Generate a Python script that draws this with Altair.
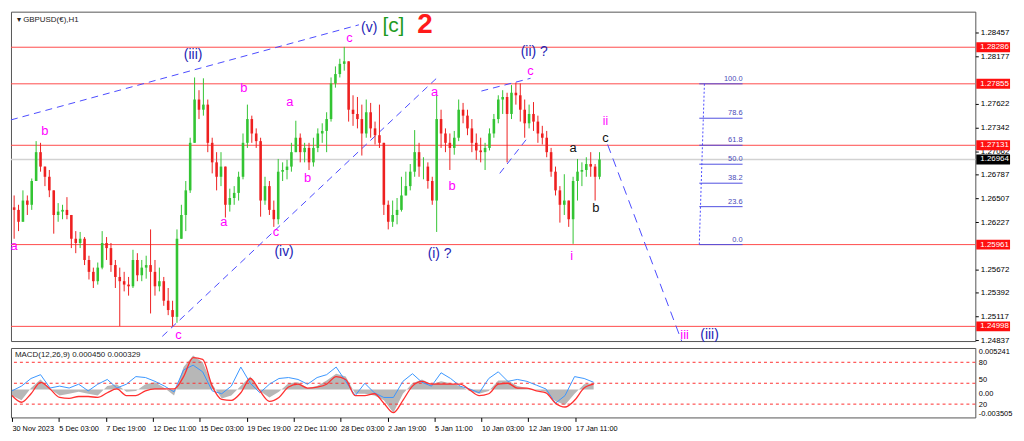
import altair as alt
import pandas as pd

W, H_MAIN, H_MACD = 972, 332, 70

# ---------------- price data (H1 chart, one candle per 6 hours) ----------------
candle_step_hours = 6
first_open = 1.2640
candle_high = [1.2654,1.2643,1.2660,1.2654,1.2674,1.2718,1.2716,1.2688,1.2684,1.2648,
1.2645,1.2643,1.2652,1.2631,1.2612,1.2611,1.2605,1.2583,1.2569,1.2575,
1.2612,1.2605,1.2598,1.2578,1.2569,1.2564,1.2558,1.2590,1.2586,1.2578,
1.2583,1.2614,1.2578,1.2569,1.2558,1.2545,1.2530,1.2614,1.2643,1.2671,
1.2722,1.2793,1.2778,1.2792,1.2767,1.2722,1.2705,1.2705,1.2688,1.2662,
1.2665,1.2682,1.2727,1.2761,1.2748,1.2733,1.2722,1.2676,1.2671,1.2648,
1.2697,1.2693,1.2696,1.2716,1.2742,1.2727,1.2716,1.2716,1.2722,1.2733,
1.2739,1.2752,1.2793,1.2806,1.2815,1.2829,1.2812,1.2772,1.2770,1.2761,
1.2767,1.2763,1.2741,1.2761,1.2716,1.2648,1.2648,1.2651,1.2676,1.2682,
1.2691,1.2731,1.2716,1.2699,1.2693,1.2676,1.2772,1.2755,1.2733,1.2727,
1.2730,1.2767,1.2763,1.2755,1.2744,1.2727,1.2722,1.2716,1.2733,1.2750,
1.2772,1.2778,1.2775,1.2784,1.2787,1.2786,1.2767,1.2761,1.2764,1.2748,
1.2736,1.2730,1.2710,1.2688,1.2665,1.2679,1.2648,1.2676,1.2697,1.2693,
1.2699,1.2705,1.2691,1.2705]
candle_low = [1.2603,1.2612,1.2626,1.2631,1.2637,1.2671,1.2682,1.2665,1.2652,1.2609,
1.2623,1.2626,1.2626,1.2592,1.2586,1.2592,1.2572,1.2555,1.2545,1.2549,
1.2567,1.2578,1.2564,1.2545,1.2500,1.2541,1.2536,1.2545,1.2553,1.2553,
1.2556,1.2515,1.2536,1.2541,1.2524,1.2513,1.2500,1.2504,1.2603,1.2612,
1.2657,1.2716,1.2744,1.2748,1.2705,1.2680,1.2660,1.2665,1.2628,1.2635,
1.2643,1.2648,1.2673,1.2710,1.2716,1.2710,1.2629,1.2643,1.2631,1.2617,
1.2620,1.2671,1.2673,1.2682,1.2705,1.2693,1.2693,1.2684,1.2688,1.2705,
1.2716,1.2705,1.2741,1.2781,1.2793,1.2801,1.2741,1.2736,1.2733,1.2701,
1.2722,1.2722,1.2714,1.2710,1.2631,1.2614,1.2617,1.2620,1.2635,1.2654,
1.2660,1.2676,1.2676,1.2673,1.2662,1.2643,1.2611,1.2710,1.2705,1.2684,
1.2702,1.2718,1.2739,1.2725,1.2705,1.2696,1.2693,1.2684,1.2707,1.2722,
1.2739,1.2750,1.2693,1.2744,1.2761,1.2741,1.2722,1.2733,1.2730,1.2716,
1.2714,1.2699,1.2676,1.2654,1.2622,1.2631,1.2617,1.2597,1.2648,1.2665,
1.2676,1.2676,1.2648,1.2673]
candle_close = [1.2637,1.2623,1.2648,1.2643,1.2671,1.2705,1.2688,1.2676,1.2660,1.2631,
1.2635,1.2637,1.2631,1.2603,1.2598,1.2603,1.2578,1.2564,1.2553,1.2569,
1.2598,1.2592,1.2572,1.2558,1.2553,1.2549,1.2547,1.2578,1.2560,1.2569,
1.2572,1.2564,1.2547,1.2553,1.2530,1.2519,1.2511,1.2603,1.2631,1.2660,
1.2716,1.2767,1.2755,1.2761,1.2716,1.2693,1.2676,1.2688,1.2643,1.2651,
1.2657,1.2676,1.2716,1.2744,1.2727,1.2718,1.2648,1.2665,1.2637,1.2626,
1.2682,1.2684,1.2688,1.2705,1.2722,1.2705,1.2710,1.2693,1.2710,1.2727,
1.2730,1.2744,1.2786,1.2797,1.2809,1.2812,1.2755,1.2750,1.2744,1.2727,
1.2752,1.2733,1.2725,1.2716,1.2643,1.2623,1.2631,1.2637,1.2654,1.2665,
1.2682,1.2705,1.2688,1.2688,1.2671,1.2648,1.2744,1.2727,1.2716,1.2710,
1.2722,1.2755,1.2748,1.2733,1.2716,1.2707,1.2705,1.2710,1.2727,1.2744,
1.2767,1.2770,1.2750,1.2775,1.2772,1.2755,1.2739,1.2750,1.2741,1.2727,
1.2722,1.2705,1.2682,1.2660,1.2643,1.2648,1.2626,1.2671,1.2682,1.2684,
1.2691,1.2688,1.2676,1.26964]

# ---------------- MACD(12,26,9) panel, one point per 13 hours ----------------
macd_step_hours = 13
macd_blue = [-0.00016,0.00044,0.00140,0.00188,0.00020,0.00044,0.00020,0.00068,-0.00016,0.00068,
0.00128,0.00020,0.00068,0.00164,0.00152,0.00104,0.00044,-0.00028,0.00248,0.00308,
0.00224,-0.00016,-0.00052,0.00044,0.00284,0.00080,-0.00040,0.00068,0.00140,0.00152,
0.00128,0.00068,0.00152,0.00188,0.00284,0.00104,-0.00075,0.00080,-0.00040,-0.00099,
-0.00099,0.00104,0.00200,0.00092,0.00044,0.00212,0.00140,0.00044,0.00008,-0.00040,
0.00140,0.00224,0.00104,0.00128,0.00104,0.00056,0.00008,-0.00171,-0.00075,0.00164,
0.00140,0.00092]
macd_signal = [-0.00075,-0.00159,-0.00052,0.00092,0.00008,-0.00099,-0.00111,-0.00087,-0.00087,-0.00099,
-0.00040,0.00008,-0.00075,-0.00075,-0.00016,0.00008,0.00008,0.00008,0.00164,0.00404,
0.00380,0.00044,-0.00123,-0.00135,-0.00040,0.00140,-0.00016,-0.00147,-0.00099,0.00032,
0.00068,0.00020,0.00032,0.00068,0.00164,0.00128,-0.00075,-0.00075,-0.00052,-0.00171,
-0.00291,-0.00135,0.00044,0.00104,0.00068,0.00068,0.00068,0.00068,-0.00004,-0.00075,
-0.00052,0.00068,0.00080,0.00020,0.00020,-0.00016,-0.00040,-0.00171,-0.00219,-0.00135,
0.00020,0.00068]
macd_hist = [-0.00075,-0.00135,0.00020,0.00128,0.00008,-0.00075,-0.00052,-0.00028,-0.00052,-0.00075,
0.00044,0.00068,-0.00028,-0.00016,0.00068,0.00092,0.00020,-0.00075,0.00284,0.00428,
0.00344,0.00068,-0.00111,-0.00075,0.00044,0.00164,-0.00016,-0.00099,-0.00028,0.00080,
0.00092,0.00020,0.00044,0.00116,0.00200,0.00164,-0.00052,-0.00052,-0.00075,-0.00135,
-0.00291,-0.00052,0.00080,0.00128,0.00068,0.00104,0.00080,0.00044,-0.00016,-0.00052,
-0.00016,0.00116,0.00116,0.00044,0.00020,-0.00004,-0.00028,-0.00147,-0.00195,-0.00052,
0.00068,0.00080]
macd_levels = [0.00344, 0.00080, -0.00183]
macd_axis_values = [0.005241, 0.00344, 0.00080, 0.0, -0.00183, -0.003505]
macd_axis_texts = ["0.005241", "80", "50", "0.00", "20", "-0.003505"]

# ---------------- levels, axis ----------------
red_levels = [1.28286, 1.27855, 1.27131, 1.25961, 1.24998]
last_price = 1.26964
axis_ticks = [1.28457, 1.28177, 1.27622, 1.27342, 1.27062, 1.26787,
              1.26507, 1.26227, 1.25672, 1.25392, 1.25117, 1.24837]
time_labels = ["30 Nov 2023", "5 Dec 03:00", "7 Dec 19:00", "12 Dec 11:00", "15 Dec 03:00",
               "19 Dec 19:00", "22 Dec 11:00", "28 Dec 03:00", "2 Jan 19:00", "5 Jan 11:00",
               "10 Jan 03:00", "12 Jan 19:00", "17 Jan 11:00"]
time_label_step = 64

# ---------------- wave labels (x in hours from 30 Nov) ----------------
PINK, NAVY, BLACK, GREEN = "#ff00ff", "#2323b4", "#111111", "#1e9b1e"
wave_text = ["a", "b", "c", "(iii)", "a", "b", "c", "(iv)", "a", "b", "c", "(v)", "[c]",
             "a", "b", "(i) ?", "(ii) ?", "c", "i", "a", "b", "ii", "c", "iii", "(iii)"]
wave_x = [3, 45, 227, 247, 289, 316, 360, 371, 379, 403, 460, 487, 520,
          576, 600, 583, 712, 707, 763, 765, 796, 809, 809, 917, 951]
wave_price = [1.2595, 1.2730, 1.2489, 1.2819, 1.2623, 1.2780, 1.2611, 1.2587, 1.2764, 1.2674, 1.2840,
              1.2851, 1.2854, 1.2776, 1.2665, 1.2585, 1.2823, 1.2800, 1.2583, 1.2710, 1.2639,
              1.2742, 1.2722, 1.2490, 1.2490]
wave_color = [PINK, PINK, PINK, NAVY, PINK, PINK, PINK, NAVY, PINK, PINK, PINK, NAVY, GREEN,
              PINK, PINK, NAVY, NAVY, PINK, PINK, BLACK, BLACK, PINK, BLACK, PINK, NAVY]
wave_size = [13, 13, 13, 14, 13, 13, 13, 14, 13, 13, 13, 14, 21,
             13, 13, 14, 14, 13, 13, 13, 13, 12, 13, 13, 14]
big_label, big_x, big_price = "2", 563, 1.2855

# dashed trend lines
trend_x1 = [-1.3, 205, 640, 665]
trend_p1 = [1.2743, 1.2488, 1.2777, 1.2680]
trend_x2 = [473, 580, 707, 703]
trend_p2 = [1.2855, 1.2793, 1.2792, 1.2722]
proj_x1, proj_p1, proj_x2, proj_p2 = 812, 1.2714, 913, 1.24825

# fibonacci retracement
fib_levels = [0.0, 23.6, 38.2, 50.0, 61.8, 78.6, 100.0]
fib_low, fib_high = 1.25961, 1.27855
fib_x_start, fib_x_end = 937, 996
fib_stem_top_x, fib_stem_bottom_x = 944, 937

# ---------------- frames ----------------
opens = [first_open] + candle_close[:-1]
cdf = pd.DataFrame({
    "k": [candle_step_hours * j + 3 for j in range(len(candle_close))],
    "o": opens, "c": candle_close,
})
cdf["h"] = [max(a, b, c) for a, b, c in zip(candle_high, opens, candle_close)]
cdf["l"] = [min(a, b, c) for a, b, c in zip(candle_low, opens, candle_close)]
cdf["col"] = ["#33c433" if c >= o else "#ee2020" for o, c in zip(opens, candle_close)]

xs = alt.Scale(domain=[-1.3, 1313.3], nice=False, zero=False)
ys = alt.Scale(domain=[1.24825, 1.28705], nice=False, zero=False)
yax = alt.Axis(orient="right", values=axis_ticks, format=".5f", title=None, grid=False,
               tickSize=3, labelFontSize=8, labelFont="Liberation Sans", labelColor="#000",
               tickColor="#000", domain=False, labelPadding=2)


def X(f):
    return alt.X(f, type="quantitative", scale=xs, axis=None)


def Y(f):
    return alt.Y(f, type="quantitative", scale=ys, axis=yax)


lev = alt.Chart(pd.DataFrame({"p": red_levels})).mark_rule(color="#ff4a4a", strokeWidth=1).encode(y=Y("p"))
cur = alt.Chart(pd.DataFrame({"p": [last_price]})).mark_rule(color="#d2d2d2", strokeWidth=1.5).encode(y=Y("p"))

tdf = pd.DataFrame({"x1": trend_x1, "p1": trend_p1, "x2": trend_x2, "p2": trend_p2})
trend = alt.Chart(tdf).mark_rule(color="#4b4bff", strokeWidth=1, strokeDash=[7, 5]).encode(
    x=X("x1"), y=Y("p1"), x2="x2:Q", y2="p2:Q")
pdf = pd.DataFrame({"x1": [proj_x1], "p1": [proj_p1], "x2": [proj_x2], "p2": [proj_p2]})
proj = alt.Chart(pdf).mark_rule(color="#4b4bff", strokeWidth=1, strokeDash=[9, 6]).encode(
    x=X("x1"), y=Y("p1"), x2="x2:Q", y2="p2:Q")

fdf = pd.DataFrame({"lvl": fib_levels})
fdf["p"] = fib_low + fdf["lvl"] / 100.0 * (fib_high - fib_low)
fdf["t"] = [f"{v:.1f}" for v in fib_levels]
fdf["xs"] = fib_x_start
fdf["xe"] = fib_x_end
fib_lines = alt.Chart(fdf).mark_rule(color="#4f4fe0", strokeWidth=1).encode(x=X("xs"), x2="xe:Q", y=Y("p"))
fib_text = alt.Chart(fdf).mark_text(align="right", baseline="bottom", dy=-1, fontSize=7.5,
                                     font="Liberation Sans", color="#4a4ab8").encode(
    x=X("xe"), y=Y("p"), text="t:N")
stem = alt.Chart(pd.DataFrame({"x1": [fib_stem_top_x], "p1": [fib_high],
                               "x2": [fib_stem_bottom_x], "p2": [fib_low]})).mark_rule(
    color="#4b4bff", strokeWidth=1, strokeDash=[2, 2]).encode(x=X("x1"), y=Y("p1"), x2="x2:Q", y2="p2:Q")

wick = alt.Chart(cdf).mark_rule(strokeWidth=1).encode(
    x=X("k"), y=Y("l"), y2="h:Q", color=alt.Color("col:N", scale=None))
body = alt.Chart(cdf).mark_rule(strokeWidth=2.6).encode(
    x=X("k"), y=Y("o"), y2="c:Q", color=alt.Color("col:N", scale=None))

wdf = pd.DataFrame({"t": wave_text, "x": wave_x, "p": wave_price, "c": wave_color, "s": wave_size})
waves = alt.Chart(wdf).mark_text(font="Liberation Sans", baseline="middle").encode(
    x=X("x"), y=Y("p"), text="t:N", color=alt.Color("c:N", scale=None), size=alt.Size("s:Q", scale=None))
big = alt.Chart(pd.DataFrame({"t": [big_label], "x": [big_x], "p": [big_price]})).mark_text(
    font="Liberation Sans", fontSize=28, fontWeight="bold", color="#ff1a1a", baseline="middle").encode(
    x=X("x"), y=Y("p"), text="t:N")

tag_df = pd.DataFrame({"p": red_levels + [last_price],
                       "col": ["#ff1010"] * len(red_levels) + ["#000000"]})
tag_df["t"] = [f"{v:.5f}" for v in tag_df["p"]]
tags = alt.Chart(tag_df).mark_rule(strokeWidth=10).encode(
    y=Y("p"), x=alt.value(W + 1), x2=alt.value(W + 35), color=alt.Color("col:N", scale=None))
tag_text = alt.Chart(tag_df).mark_text(align="left", baseline="middle", fontSize=8,
                                       font="Liberation Sans", color="white").encode(
    y=Y("p"), x=alt.value(W + 5), text="t:N")

title = alt.Chart(pd.DataFrame({"t": ["\u25be  GBPUSD(\u20ac),H1"]})).mark_text(
    align="left", baseline="middle", fontSize=8, font="Liberation Sans", color="#222").encode(
    x=alt.value(6), y=alt.value(8), text="t:N")

main = alt.layer(lev, cur, trend, proj, fib_lines, stem, fib_text, wick, body, waves, big,
                 tags, tag_text, title).properties(width=W, height=H_MAIN)

# ---------------- MACD panel ----------------
mdf = pd.DataFrame({"k": [macd_step_hours * m for m in range(len(macd_blue))],
                    "blue": macd_blue, "sig": macd_signal, "hist": macd_hist})
yms = alt.Scale(domain=[-0.003505, 0.005241], nice=False, zero=False)
label_expr = " : ".join(
    f"abs(datum.value - ({v})) < 0.0001 ? '{t}'" for v, t in zip(macd_axis_values, macd_axis_texts)) + " : ''"
baseline_expr = ("datum.value > 0.005 ? 'top' : datum.value < -0.0034 ? 'bottom' : "
                 "abs(datum.value) < 0.0001 ? 'top' : "
                 "abs(datum.value - 0.0008) < 0.0001 ? 'bottom' : 'middle'")
ymax = alt.Axis(orient="right", values=macd_axis_values, labelExpr=label_expr, title=None, grid=False,
                tickSize=0, labelFontSize=7.5, labelFont="Liberation Sans", labelColor="#000",
                domain=False, labelPadding=3, labelOverlap=False,
                labelBaseline={"expr": baseline_expr})
xlabel_expr = "[" + ",".join(f"'{t}'" for t in time_labels) + f"][round(datum.value/{time_label_step})]"
xax = alt.Axis(values=[time_label_step * i for i in range(len(time_labels))], labelExpr=xlabel_expr,
               labelAlign="left", labelPadding=3, tickSize=4, labelFontSize=7.4, labelFont="Liberation Sans",
               labelColor="#000", tickColor="#000", grid=False, domain=False, title=None,
               labelFlush=False, labelOverlap=False)


def MX(f):
    return alt.X(f, type="quantitative", scale=xs, axis=xax)


def MY(f):
    return alt.Y(f, type="quantitative", scale=yms, axis=ymax)


hist = alt.Chart(mdf).mark_area(color="#b7b7b7", opacity=1).encode(x=MX("k"), y=MY("hist"), y2=alt.datum(0))
lvl = alt.Chart(pd.DataFrame({"v": macd_levels})).mark_rule(
    color="#ff3030", strokeDash=[3, 3], strokeWidth=1).encode(y=MY("v"))
blue = alt.Chart(mdf).mark_line(color="#3a96ff", strokeWidth=1).encode(x=MX("k"), y=MY("blue"))
sig = alt.Chart(mdf).mark_line(color="#ff3030", strokeWidth=1.3, interpolate="monotone").encode(x=MX("k"), y=MY("sig"))
mtitle = alt.Chart(pd.DataFrame({"t": ["MACD(12,26,9) 0.000450 0.000329"]})).mark_text(
    align="left", baseline="middle", fontSize=8, font="Liberation Sans", color="#222").encode(
    x=alt.value(4), y=alt.value(7), text="t:N")

macd = alt.layer(hist, lvl, blue, sig, mtitle).properties(width=W, height=H_MACD)

chart = alt.vconcat(main, macd, spacing=2).properties(
    padding={"left": 0, "top": 0, "right": 0, "bottom": 0}, background="white"
).configure_view(stroke="#555555", strokeWidth=1)

chart.save("out.html", embed_options={"renderer": "svg", "actions": False})
